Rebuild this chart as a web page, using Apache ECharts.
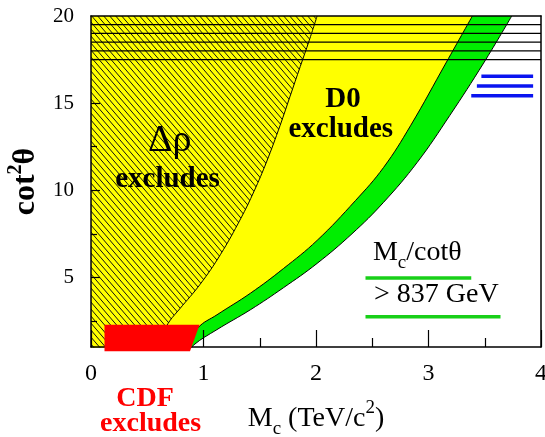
<!DOCTYPE html>
<html>
<head>
<meta charset="utf-8">
<script src="https://cdn.jsdelivr.net/npm/echarts@6/dist/echarts.min.js"></script>
<style>
html, body { margin: 0; padding: 0; background: #fff; }
#chart { width: 545px; height: 437px; }
</style>
</head>
<body>
<div id="chart"></div>
<script>
// axis values
const yLabelValues = [5, 10, 15, 20];
const yMajorTicks = [5, 10, 15];
const yMinorTicks = [2.5, 7.5, 12.5, 17.5];

// Delta-rho exclusion boundary (hatched, left of curve)
const deltaRhoX = [0.50, 0.70, 0.79, 0.97, 1.15, 1.33, 1.45, 1.56, 1.68, 1.77, 1.86, 1.94, 2.01];
const deltaRhoY = [0.6, 2.5, 3.2, 4.6, 6.3, 8.36, 9.95, 11.62, 13.7, 15.4, 17.1, 18.6, 20.0];

// D0 exclusion boundary (yellow / green edge)
const d0X = [0.80, 0.95, 1.12, 1.42, 1.71, 2.01, 2.35, 2.60, 2.84, 3.16, 3.39];
const d0Y = [0.6, 2.1, 2.85, 4.1, 5.5, 7.12, 9.4, 11.3, 13.7, 17.36, 20.0];

// outer edge of the green band
const outerX = [0.86, 0.91, 1.12, 1.42, 1.71, 2.01, 2.32, 2.60, 2.90, 3.19, 3.49, 3.74];
const outerY = [0.6, 1.1, 2.0, 3.15, 4.4, 5.8, 7.5, 9.3, 11.6, 14.3, 17.3, 20.0];

// horizontal black lines across the top
const topLevels = [17.5, 18, 18.5, 19, 19.5];

// blue lines (right, upper)
const blueY = [16.54, 15.98, 15.42];
const blueStart = [3.47, 3.43, 3.38];
const blueEnd = [3.93, 3.93, 3.93];

// green lines around the M/cot text
const greenY = [4.96, 2.74];
const greenStart = [2.44, 2.44];
const greenEnd = [3.38, 3.64];

// CDF excluded box
const cdfX = [0.12, 0.965, 0.88, 0.12];
const cdfY = [2.28, 2.28, 0.75, 0.75];

const SERIF = '"Liberation Serif", "Times New Roman", serif';

function hatchPattern() {
    const w = 6, h = 7;
    const c = document.createElement('canvas');
    c.width = w; c.height = h;
    const ctx = c.getContext('2d');
    ctx.fillStyle = '#ffff00';
    ctx.fillRect(0, 0, w, h);
    ctx.strokeStyle = '#111';
    ctx.lineWidth = 1;
    ctx.beginPath();
    [-1, 0, 1].forEach(function (k) {
        ctx.moveTo(k * w, 0);
        ctx.lineTo(k * w + w, h);
    });
    ctx.stroke();
    return c;
}

function zip(xs, ys) {
    return xs.map(function (x, i) { return [x, ys[i]]; });
}

// area between the boundary curve and the top of the plot
function regionSeries(xs, ys, fill, z) {
    return {
        type: 'line', z: z, symbol: 'none', silent: true,
        smooth: 0.4,
        data: [[0, ys[0]]].concat(zip(xs, ys)),
        lineStyle: { color: '#000', width: 1 },
        areaStyle: { color: fill, opacity: 1, origin: 'end' }
    };
}

function segSeries(y, x0, x1, color, width, z) {
    return {
        type: 'line', z: z, symbol: 'none', silent: true,
        data: [[x0, y], [x1, y]],
        lineStyle: { color: color, width: width }
    };
}

const notes = [
    { text: 'Δρ', x: 0.70, y: 12.8, style: { font: '38px ' + SERIF, fill: '#000' } },
    { text: 'excludes', x: 0.68, y: 10.6, style: { font: 'bold 29px ' + SERIF, fill: '#000' } },
    { text: 'D0', x: 2.24, y: 15.2, style: { font: 'bold 29px ' + SERIF, fill: '#000' } },
    { text: 'excludes', x: 2.22, y: 13.5, style: { font: 'bold 29px ' + SERIF, fill: '#000' } },
    { text: '{m|M}{s|c}{m|/cotθ}', x: 2.90, y: 6.4, style: { fill: '#000', rich: {
        m: { fontSize: 28, fontFamily: SERIF, lineHeight: 40 },
        s: { fontSize: 19, fontFamily: SERIF, lineHeight: 19, verticalAlign: 'bottom' } } } },
    { text: '> 837 GeV', x: 3.07, y: 3.98, style: { font: '28px ' + SERIF, fill: '#000' } },
    { text: 'CDF', x: 0.48, y: -2.0, style: { font: 'bold 28px ' + SERIF, fill: '#ff0000' } },
    { text: 'excludes', x: 0.53, y: -3.4, style: { font: 'bold 28px ' + SERIF, fill: '#ff0000' } }
];

const chart = echarts.init(document.getElementById('chart'));

const series = [
    regionSeries(outerX, outerY, '#00ee00', 2),
    regionSeries(d0X, d0Y, '#ffff00', 2),
    regionSeries(deltaRhoX, deltaRhoY, { image: hatchPattern(), repeat: 'repeat' }, 2)
];
topLevels.forEach(function (y) { series.push(segSeries(y, 0, 4, '#000', 1.2, 3)); });
blueY.forEach(function (y, i) { series.push(segSeries(y, blueStart[i], blueEnd[i], '#0a14f0', 3.4, 3)); });
greenY.forEach(function (y, i) { series.push(segSeries(y, greenStart[i], greenEnd[i], '#18d018', 3.4, 3)); });

series.push({
    type: 'custom', z: 6, clip: false, silent: true,
    data: [[cdfX[0], cdfY[0]]],
    renderItem: function (params, api) {
        const pts = cdfX.map(function (x, i) { return api.coord([x, cdfY[i]]); });
        return { type: 'polygon', shape: { points: pts }, style: { fill: '#ff0000' } };
    }
});

series.push({
    type: 'custom', z: 7, clip: false, silent: true,
    data: notes.map(function (n) { return [n.x, n.y]; }),
    renderItem: function (params, api) {
        const n = notes[params.dataIndex];
        const p = api.coord([n.x, n.y]);
        return {
            type: 'text', x: p[0], y: p[1],
            style: Object.assign({ text: n.text, align: 'center', verticalAlign: 'middle' }, n.style)
        };
    }
});

const frameLine = { show: true, onZero: false, lineStyle: { color: '#000', width: 1.5 } };

chart.setOption({
    animation: false,
    backgroundColor: '#fff',
    grid: { left: 91, top: 16, right: 4, bottom: 90, outerBoundsMode: 'none' },
    xAxis: [{
        type: 'value', min: 0, max: 4, interval: 1, position: 'bottom', z: 4,
        axisLine: frameLine,
        axisTick: { show: true, inside: true, length: 17, lineStyle: { color: '#000', width: 1.2 } },
        minorTick: { show: true, splitNumber: 2, length: 9, lineStyle: { color: '#000', width: 1.2 } },
        splitLine: { show: false },
        axisLabel: { margin: 15, fontSize: 24, fontFamily: SERIF, color: '#000' },
        name: '{a|M}{s|c}{a| (TeV/c}{p|2}{a|)}',
        nameLocation: 'middle', nameGap: 52,
        nameTextStyle: { color: '#000', rich: {
            a: { fontSize: 28, fontFamily: SERIF, color: '#000', lineHeight: 40 },
            s: { fontSize: 19, fontFamily: SERIF, color: '#000', lineHeight: 19, verticalAlign: 'bottom' },
            p: { fontSize: 19, fontFamily: SERIF, color: '#000', lineHeight: 19, verticalAlign: 'top' }
        } }
    }, {
        type: 'value', min: 0, max: 4, position: 'top', z: 4,
        axisLine: frameLine, axisTick: { show: false }, axisLabel: { show: false }, splitLine: { show: false }
    }],
    yAxis: [{
        type: 'value', min: 1, max: 20, position: 'left', z: 4,
        axisLine: frameLine,
        axisTick: { show: true, inside: true, length: 9, customValues: yMajorTicks, lineStyle: { color: '#000', width: 1.2 } },
        splitLine: { show: false },
        axisLabel: { margin: 17, fontSize: 21, fontFamily: SERIF, color: '#000', customValues: yLabelValues },
        name: '{a|cot}{b|2}{a|θ}',
        nameLocation: 'middle', nameGap: 42, nameRotate: 90,
        nameTextStyle: { color: '#000', rich: {
            a: { fontSize: 32, fontWeight: 'bold', fontFamily: SERIF, color: '#000', lineHeight: 40 },
            b: { fontSize: 20, fontWeight: 'bold', fontFamily: SERIF, color: '#000', lineHeight: 20, verticalAlign: 'top' }
        } }
    }, {
        type: 'value', min: 1, max: 20, position: 'right', z: 4,
        axisLine: frameLine, axisTick: { show: false }, axisLabel: { show: false }, splitLine: { show: false }
    }, {
        type: 'value', min: 1, max: 20, position: 'left', z: 4,
        axisLine: { show: false },
        axisTick: { show: true, inside: true, length: 6, customValues: yMinorTicks, lineStyle: { color: '#000', width: 1.2 } },
        axisLabel: { show: false }, splitLine: { show: false }
    }],
    series: series
});
</script>
</body>
</html>
